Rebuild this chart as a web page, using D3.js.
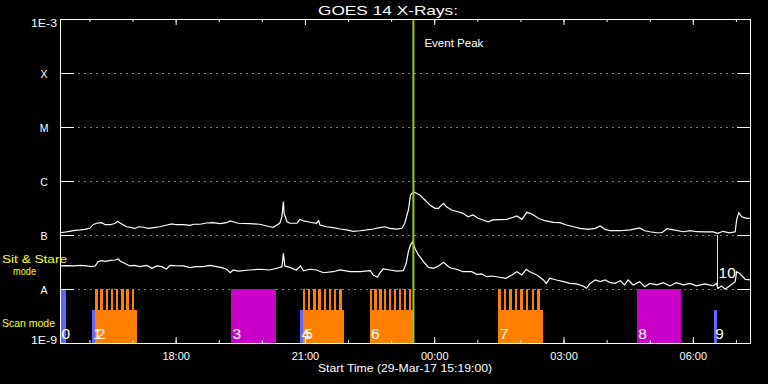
<!DOCTYPE html>
<html>
<head>
<meta charset="utf-8">
<script src="https://cdn.jsdelivr.net/npm/d3@7"></script>
<style>
  html, body { margin: 0; padding: 0; background: #000; }
  svg { display: block; font-family: "Liberation Sans", Arial, sans-serif; }
</style>
</head>
<body>
<svg width="768" height="384"></svg>
<script>
const svg = d3.select('svg')

const margin = { top: 19, right: 17, bottom: 41, left: 60 }
const width = +svg.attr('width')
const height = +svg.attr('height')

// start of the plot and its length in minutes
const t0 = Date.UTC(2017, 2, 29, 15, 19)
const spanMin = 962

// GOES 14 long channel (1-8 A): [minutes after start, W/m^2]
const longChannel = [
  [0, 1.10e-7], [9, 1.14e-7], [21, 1.22e-7], [28, 1.24e-7], [35, 1.27e-7], [42, 1.35e-7], [46, 1.55e-7], [51, 1.65e-7],
  [58, 1.69e-7], [63, 1.55e-7], [70, 1.55e-7], [77, 1.65e-7], [80, 1.79e-7], [84, 1.65e-7], [88, 1.55e-7], [93, 1.42e-7],
  [100, 1.37e-7], [104, 1.31e-7], [109, 1.42e-7], [116, 1.39e-7], [123, 1.33e-7], [130, 1.37e-7], [139, 1.42e-7], [149, 1.53e-7],
  [156, 1.60e-7], [162, 1.55e-7], [172, 1.55e-7], [181, 1.51e-7], [186, 1.58e-7], [195, 1.58e-7], [204, 1.67e-7], [213, 1.69e-7],
  [223, 1.62e-7], [232, 1.69e-7], [237, 1.82e-7], [241, 1.76e-7], [248, 1.65e-7], [265, 1.62e-7], [278, 1.58e-7], [292, 1.42e-7],
  [297, 1.39e-7], [302, 1.53e-7], [306, 1.65e-7], [309, 2.18e-7], [311, 4.14e-7], [312, 2.52e-7], [316, 1.76e-7], [320, 1.65e-7],
  [330, 1.65e-7], [334, 1.95e-7], [339, 1.82e-7], [348, 1.72e-7], [357, 1.65e-7], [360, 1.84e-7], [362, 1.53e-7], [371, 1.42e-7],
  [380, 1.37e-7], [390, 1.29e-7], [399, 1.24e-7], [408, 1.17e-7], [418, 1.20e-7], [427, 1.24e-7], [436, 1.29e-7], [445, 1.37e-7],
  [452, 1.42e-7], [459, 1.33e-7], [469, 1.29e-7], [476, 1.33e-7], [480, 1.65e-7], [485, 2.90e-7], [488, 5.50e-7], [492, 6.34e-7],
  [501, 5.50e-7], [508, 4.45e-7], [515, 3.59e-7], [522, 3.12e-7], [527, 3.12e-7], [530, 3.44e-7], [534, 3.86e-7], [538, 3.34e-7],
  [545, 2.90e-7], [554, 2.70e-7], [561, 2.52e-7], [568, 2.18e-7], [575, 2.35e-7], [582, 2.04e-7], [589, 1.90e-7], [596, 1.76e-7],
  [603, 1.90e-7], [622, 1.95e-7], [631, 2.13e-7], [636, 2.25e-7], [643, 1.95e-7], [650, 2.63e-7], [657, 2.45e-7], [666, 2.04e-7],
  [675, 1.84e-7], [687, 1.72e-7], [696, 1.69e-7], [705, 1.53e-7], [715, 1.42e-7], [724, 1.33e-7], [733, 1.29e-7], [738, 1.29e-7],
  [745, 1.33e-7], [752, 1.47e-7], [759, 1.27e-7], [766, 1.20e-7], [780, 1.20e-7], [794, 1.24e-7], [807, 1.35e-7], [814, 1.20e-7],
  [821, 1.15e-7], [831, 1.10e-7], [838, 1.10e-7], [845, 1.31e-7], [854, 1.24e-7], [868, 1.15e-7], [877, 1.20e-7], [886, 1.15e-7],
  [898, 1.14e-7], [909, 1.14e-7], [916, 1.07e-7], [923, 1.17e-7], [932, 1.10e-7], [940, 1.15e-7], [942, 1.90e-7], [945, 2.59e-7],
  [949, 2.18e-7], [956, 2.04e-7], [961, 2.04e-7]
]

// GOES 14 short channel (0.5-4 A)
const shortChannel = [
  [0, 2.67e-8], [9, 2.70e-8], [19, 2.67e-8], [28, 2.74e-8], [37, 2.67e-8], [44, 2.59e-8], [49, 2.67e-8], [53, 3.20e-8],
  [58, 3.34e-8], [63, 3.26e-8], [70, 3.40e-8], [77, 3.44e-8], [81, 3.59e-8], [84, 3.26e-8], [90, 2.99e-8], [97, 2.67e-8],
  [104, 2.74e-8], [111, 2.59e-8], [121, 2.74e-8], [128, 2.42e-8], [135, 2.67e-8], [142, 2.59e-8], [148, 2.32e-8], [153, 2.74e-8],
  [160, 2.70e-8], [172, 2.67e-8], [181, 2.48e-8], [190, 2.59e-8], [199, 2.59e-8], [209, 2.74e-8], [218, 2.59e-8], [225, 2.48e-8],
  [232, 2.32e-8], [237, 2.00e-8], [241, 2.25e-8], [248, 2.15e-8], [264, 2.25e-8], [278, 2.32e-8], [292, 2.25e-8], [302, 2.42e-8],
  [309, 2.59e-8], [311, 4.58e-8], [313, 2.67e-8], [320, 2.52e-8], [329, 2.25e-8], [335, 2.67e-8], [339, 2.18e-8], [348, 2.32e-8],
  [357, 2.25e-8], [367, 2.00e-8], [380, 2.09e-8], [390, 2.25e-8], [404, 2.09e-8], [418, 2.09e-8], [432, 2.18e-8], [436, 1.82e-8],
  [442, 1.65e-8], [445, 1.95e-8], [450, 2.35e-8], [459, 2.25e-8], [469, 2.15e-8], [478, 2.18e-8], [482, 2.99e-8], [485, 4.91e-8],
  [488, 6.53e-8], [491, 7.51e-8], [494, 5.67e-8], [499, 4.26e-8], [501, 3.97e-8], [506, 3.20e-8], [513, 2.52e-8], [520, 2.42e-8],
  [527, 2.67e-8], [534, 3.12e-8], [541, 2.59e-8], [545, 2.42e-8], [552, 2.32e-8], [561, 2.09e-8], [573, 2.09e-8], [580, 1.87e-8],
  [587, 1.90e-8], [594, 1.69e-8], [601, 1.74e-8], [612, 1.65e-8], [621, 1.58e-8], [629, 1.82e-8], [636, 2.09e-8], [643, 1.82e-8],
  [649, 2.32e-8], [654, 2.09e-8], [664, 1.82e-8], [673, 1.47e-8], [677, 1.27e-8], [682, 1.58e-8], [691, 1.47e-8], [701, 1.37e-8],
  [710, 1.27e-8], [719, 1.24e-8], [728, 1.14e-8], [733, 1.03e-8], [738, 1.27e-8], [745, 1.47e-8], [752, 1.37e-8], [759, 1.47e-8],
  [766, 1.31e-8], [773, 1.27e-8], [780, 1.42e-8], [786, 1.19e-8], [791, 1.47e-8], [798, 1.19e-8], [807, 1.37e-8], [814, 1.10e-8],
  [821, 1.27e-8], [831, 1.19e-8], [840, 1.31e-8], [849, 1.14e-8], [858, 1.31e-8], [868, 1.19e-8], [877, 1.27e-8], [886, 1.14e-8],
  [898, 1.24e-8], [909, 1.14e-8], [914, 1.27e-8], [916, 1.03e-8], [921, 1.14e-8], [926, 0.99e-8], [932, 1.14e-8], [940, 1.37e-8],
  [942, 2.09e-8], [946, 1.95e-8], [954, 1.51e-8], [962, 1.47e-8]
]

// observation blocks (minutes after start)
const obsLabel = ['0', '1', '2', '3', '4', '5', '6', '7', '8', '9']
const obsStart = [0, 44, 49, 238, 334, 338, 431, 610, 803, 910]
const obsEnd = [9, 49, 107, 301, 338, 396, 492, 672, 865, 914]
const obsKind = ['stare', 'short', 'raster', 'large', 'short', 'raster', 'raster', 'raster', 'large', 'short']
const obsSteps = [0, 0, 8, 0, 0, 8, 9, 8, 0, 0]

const peakMin = 492
const peakLabel = 'Event Peak'
const markMin = 914
const markLabel = '10'

const yTickValues = [1e-9, 1e-8, 1e-7, 1e-6, 1e-5, 1e-4, 1e-3]
const yTickLabels = ['1E-9', 'A', 'B', 'C', 'M', 'X', '1E-3']

const minToDate = m => new Date(t0 + m * 60000)

const x = d3.scaleUtc()
  .domain([minToDate(0), minToDate(spanMin)])
  .range([margin.left, width - margin.right])

const y = d3.scaleLog()
  .domain([1e-9, 1e-3])
  .range([height - margin.bottom, margin.top])

const x0 = x.range()[0], x1 = x.range()[1]
const yTop = y.range()[1], yBot = y.range()[0]

svg.append('rect').attr('width', width).attr('height', height).attr('fill', '#000')

svg.append('clipPath').attr('id', 'plot')
  .append('rect').attr('x', x0).attr('y', yTop).attr('width', x1 - x0).attr('height', yBot - yTop)

// dotted decade lines
svg.append('g')
  .selectAll('line')
  .data(yTickValues.slice(1, -1))
  .join('line')
  .attr('x1', x0 + 0.5).attr('x2', x1)
  .attr('y1', d => Math.round(y(d)) + 0.5).attr('y2', d => Math.round(y(d)) + 0.5)
  .attr('stroke', '#fff')
  .attr('stroke-dasharray', '1,5')

// observation blocks
const kindColor = { stare: '#6464ff', short: '#6464ff', raster: '#ff8000', large: '#c800c8' }
const lowTop = 4.1e-9
const obs = obsLabel.map((l, i) => ({ label: l, start: obsStart[i], end: obsEnd[i], kind: obsKind[i], steps: obsSteps[i] }))
const blockTop = d => (d.kind === 'short' || d.kind === 'raster') ? y(lowTop) : y(1e-8)

const gObs = svg.append('g').attr('shape-rendering', 'crispEdges')
gObs.selectAll('rect.block')
  .data(obs)
  .join('rect')
  .attr('class', 'block')
  .attr('x', d => x(minToDate(d.start)))
  .attr('width', d => x(minToDate(d.end)) - x(minToDate(d.start)))
  .attr('y', blockTop)
  .attr('height', d => yBot - blockTop(d))
  .attr('fill', d => kindColor[d.kind])

const fingers = obs.filter(d => d.kind === 'raster').flatMap(d =>
  d3.range(d.steps).map(k => ({ start: d.start + k * (d.end - d.start) / d.steps, len: (d.end - d.start) / d.steps }))
)
gObs.selectAll('rect.finger')
  .data(fingers)
  .join('rect')
  .attr('class', 'finger')
  .attr('x', d => x(minToDate(d.start)))
  .attr('width', d => 0.45 * (x(minToDate(d.start + d.len)) - x(minToDate(d.start))))
  .attr('y', y(1e-8))
  .attr('height', y(lowTop) - y(1e-8))
  .attr('fill', kindColor.raster)

// flux curves
const line = d3.line()
  .x(d => x(minToDate(d[0])))
  .y(d => y(d[1]))

const gCurves = svg.append('g').attr('clip-path', 'url(#plot)')
gCurves.selectAll('path')
  .data([longChannel, shortChannel])
  .join('path')
  .attr('d', line)
  .attr('fill', 'none')
  .attr('stroke', '#fff')
  .attr('stroke-width', 1.2)

// observation numbers
svg.append('g')
  .selectAll('text')
  .data(obs)
  .join('text')
  .attr('x', d => x(minToDate(d.start)) + 1.5)
  .attr('y', 339)
  .attr('fill', '#fff')
  .attr('font-size', 15.5)
  .text(d => d.label)

// event peak line
svg.append('line')
  .attr('x1', x(minToDate(peakMin))).attr('x2', x(minToDate(peakMin)))
  .attr('y1', yTop).attr('y2', yBot)
  .attr('stroke', '#9acd00').attr('stroke-width', 2)

svg.append('text')
  .attr('x', x(minToDate(peakMin)) + 11).attr('y', 47)
  .attr('fill', '#fff').attr('font-size', 11)
  .attr('textLength', 59).attr('lengthAdjust', 'spacingAndGlyphs')
  .text(peakLabel)

// marker 10
svg.append('line')
  .attr('x1', Math.round(x(minToDate(markMin))) + 0.5).attr('x2', Math.round(x(minToDate(markMin))) + 0.5)
  .attr('y1', y(1e-7)).attr('y2', y(1e-8))
  .attr('stroke', '#ffff00').attr('stroke-width', 1)
  .attr('shape-rendering', 'crispEdges')

svg.append('text')
  .attr('x', x(minToDate(markMin)) + 2).attr('y', 278)
  .attr('fill', '#fff').attr('font-size', 15.5)
  .text(markLabel)

// axes
const styleAxis = g => {
  g.select('.domain').remove()
  g.selectAll('line').attr('stroke', '#fff')
  g.selectAll('text').attr('fill', '#fff')
}

svg.append('g')
  .attr('transform', `translate(0,${yBot})`)
  .call(d3.axisBottom(x).ticks(d3.utcHour.every(1)).tickFormat('').tickSize(-3).tickSizeOuter(0))
  .call(styleAxis)

svg.append('g')
  .attr('transform', `translate(0,${yBot})`)
  .call(d3.axisBottom(x).ticks(d3.utcHour.every(3)).tickFormat(d3.utcFormat('%H:%M')).tickSize(-6).tickSizeOuter(0).tickPadding(9))
  .call(styleAxis)
  .call(g => g.attr('font-family', null).selectAll('text').attr('font-size', 11))

svg.append('g')
  .attr('transform', `translate(0,${yTop})`)
  .call(d3.axisTop(x).ticks(d3.utcHour.every(1)).tickFormat('').tickSize(-3).tickSizeOuter(0))
  .call(styleAxis)

svg.append('g')
  .attr('transform', `translate(0,${yTop})`)
  .call(d3.axisTop(x).ticks(d3.utcHour.every(3)).tickFormat('').tickSize(-6).tickSizeOuter(0))
  .call(styleAxis)

svg.append('g')
  .attr('transform', `translate(${x0},0)`)
  .call(d3.axisLeft(y).tickValues(yTickValues).tickFormat('').tickSize(-14))
  .call(styleAxis)

svg.append('g')
  .attr('transform', `translate(${x1},0)`)
  .call(d3.axisRight(y).tickValues(yTickValues).tickFormat('').tickSize(-14))
  .call(styleAxis)

svg.append('rect')
  .attr('x', x0 + 0.5).attr('y', yTop + 0.5)
  .attr('width', x1 - x0 - 1).attr('height', yBot - yTop)
  .attr('fill', 'none').attr('stroke', '#fff')

// y labels
svg.append('g')
  .selectAll('text')
  .data(yTickValues)
  .join('text')
  .attr('x', 44)
  .attr('y', (d, i) => i === 0 ? 344 : i === yTickValues.length - 1 ? 27 : y(d) + 4.5)
  .attr('text-anchor', 'middle')
  .attr('fill', '#fff')
  .attr('font-size', 10.5)
  .each(function (d, i) {
    if (yTickLabels[i].length > 1) d3.select(this).attr('textLength', 26).attr('lengthAdjust', 'spacingAndGlyphs')
  })
  .text((d, i) => yTickLabels[i])

// titles
svg.append('text')
  .attr('x', 388).attr('y', 15)
  .attr('text-anchor', 'middle')
  .attr('fill', '#fff').attr('font-size', 13.5)
  .attr('textLength', 140).attr('lengthAdjust', 'spacingAndGlyphs')
  .text('GOES 14 X-Rays:')

svg.append('text')
  .attr('x', 405).attr('y', 372)
  .attr('text-anchor', 'middle')
  .attr('fill', '#fff').attr('font-size', 11)
  .attr('textLength', 174).attr('lengthAdjust', 'spacingAndGlyphs')
  .text('Start Time (29-Mar-17 15:19:00)')

const modeLabels = [
  { text: 'Sit & Stare', x: 2, y: 263, w: 65 },
  { text: 'mode', x: 13, y: 275, w: 23 },
  { text: 'Scan mode', x: 2, y: 327, w: 53 }
]
svg.append('g')
  .selectAll('text')
  .data(modeLabels)
  .join('text')
  .attr('x', d => d.x).attr('y', d => d.y)
  .attr('fill', '#ffff00').attr('font-size', 11.5)
  .attr('textLength', d => d.w).attr('lengthAdjust', 'spacingAndGlyphs')
  .text(d => d.text)
</script>
</body>
</html>
